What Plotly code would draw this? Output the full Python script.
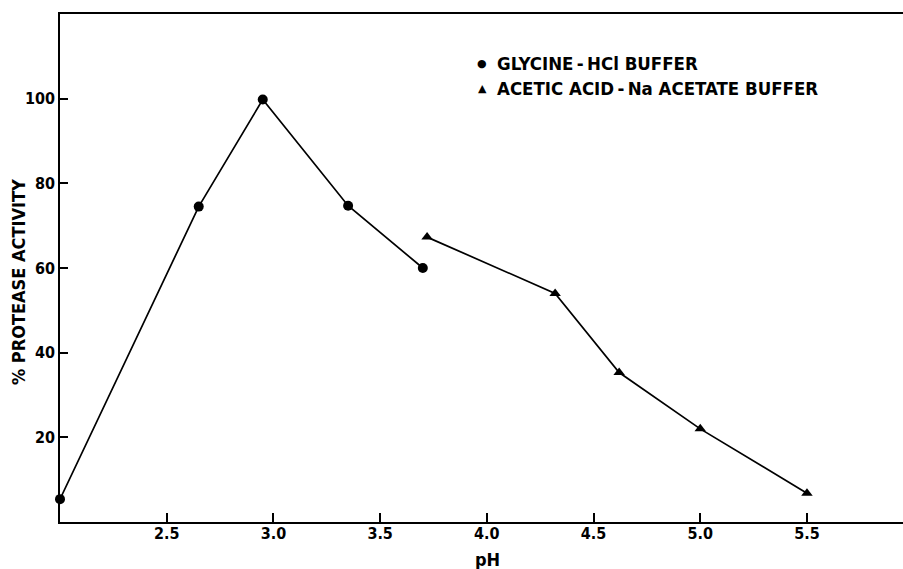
import plotly.graph_objects as go

gly_ph = [2.0, 2.65, 2.95, 3.35, 3.70]
gly_act = [5.4, 74.5, 99.8, 74.7, 60.0]
ace_ph = [3.72, 4.32, 4.62, 5.0, 5.5]
ace_act = [67.3, 54.0, 35.3, 22.0, 6.8]
xticks = [2.5, 3.0, 3.5, 4.0, 4.5, 5.0, 5.5]
xtick_text = ["2.5", "3.0", "3.5", "4.0", "4.5", "5.0", "5.5"]
yticks = [20, 40, 60, 80, 100]
legend_labels = ["GLYCINE\u2009-\u2009HCl BUFFER", "ACETIC ACID\u2009-\u2009Na ACETATE BUFFER"]

FONT = "Liberation Sans Narrow, DejaVu Sans Condensed, Liberation Sans, sans-serif"

fig = go.Figure()
fig.add_trace(go.Scatter(x=gly_ph, y=gly_act, mode="lines+markers",
                         line=dict(color="black", width=1.7),
                         marker=dict(symbol="circle", size=10, color="black"),
                         cliponaxis=False, showlegend=False))
fig.add_trace(go.Scatter(x=ace_ph, y=ace_act, mode="lines+markers",
                         line=dict(color="black", width=1.7),
                         marker=dict(symbol="triangle-up", size=10, color="black"),
                         cliponaxis=False, showlegend=False))

# legend (symbol + text)
leg_y = [(522 - 63) / 508, (522 - 89) / 508]
leg_sym = ["\u25CF", "\u25B2"]
for i in range(2):
    fig.add_annotation(x=(482 - 60) / 843, y=leg_y[i], xref="paper", yref="paper",
                       xanchor="center", yanchor="middle", text=leg_sym[i], showarrow=False,
                       font=dict(family="DejaVu Sans", size=11, color="black"))
    fig.add_annotation(x=(495 - 60) / 843, y=leg_y[i], xref="paper", yref="paper",
                       xanchor="left", yanchor="middle", text=legend_labels[i], showarrow=False,
                       font=dict(family=FONT, size=18.5, color="black", weight="bold"))

# axis titles
fig.add_annotation(x=(487 - 60) / 843, y=-(559 - 522) / 508, xref="paper", yref="paper",
                   xanchor="center", yanchor="middle", text="pH", showarrow=False,
                   font=dict(family=FONT, size=18, color="black", weight="bold"))
fig.add_annotation(x=-(60 - 18) / 843, y=(522 - 282) / 508, xref="paper", yref="paper",
                   xanchor="center", yanchor="middle", text="% PROTEASE ACTIVITY", textangle=-90,
                   showarrow=False, font=dict(family=FONT, size=18, color="black", weight="bold"))

fig.update_layout(
    width=903, height=569,
    margin=dict(l=60, r=0, t=14, b=47, autoexpand=False),
    paper_bgcolor="white", plot_bgcolor="white",
    font=dict(family=FONT, color="black", size=16, weight="bold"),
    xaxis=dict(range=[2.0, 5.95], tickvals=xticks, ticktext=xtick_text,
               ticks="inside", ticklen=9, tickwidth=1.5, tickcolor="black",
               showline=True, linecolor="black", linewidth=1.5, mirror=True,
               showgrid=False, zeroline=False, automargin=False,
               ticklabelstandoff=-4),
    yaxis=dict(range=[0, 120], tickvals=yticks,
               ticks="inside", ticklen=8, tickwidth=1.5, tickcolor="black",
               showline=True, linecolor="black", linewidth=1.5,
               showgrid=False, zeroline=False, automargin=False),
)

fig.write_html("out.html", config={"displayModeBar": False},
               post_script="document.body.style.margin='0';document.body.style.overflow='hidden';")
